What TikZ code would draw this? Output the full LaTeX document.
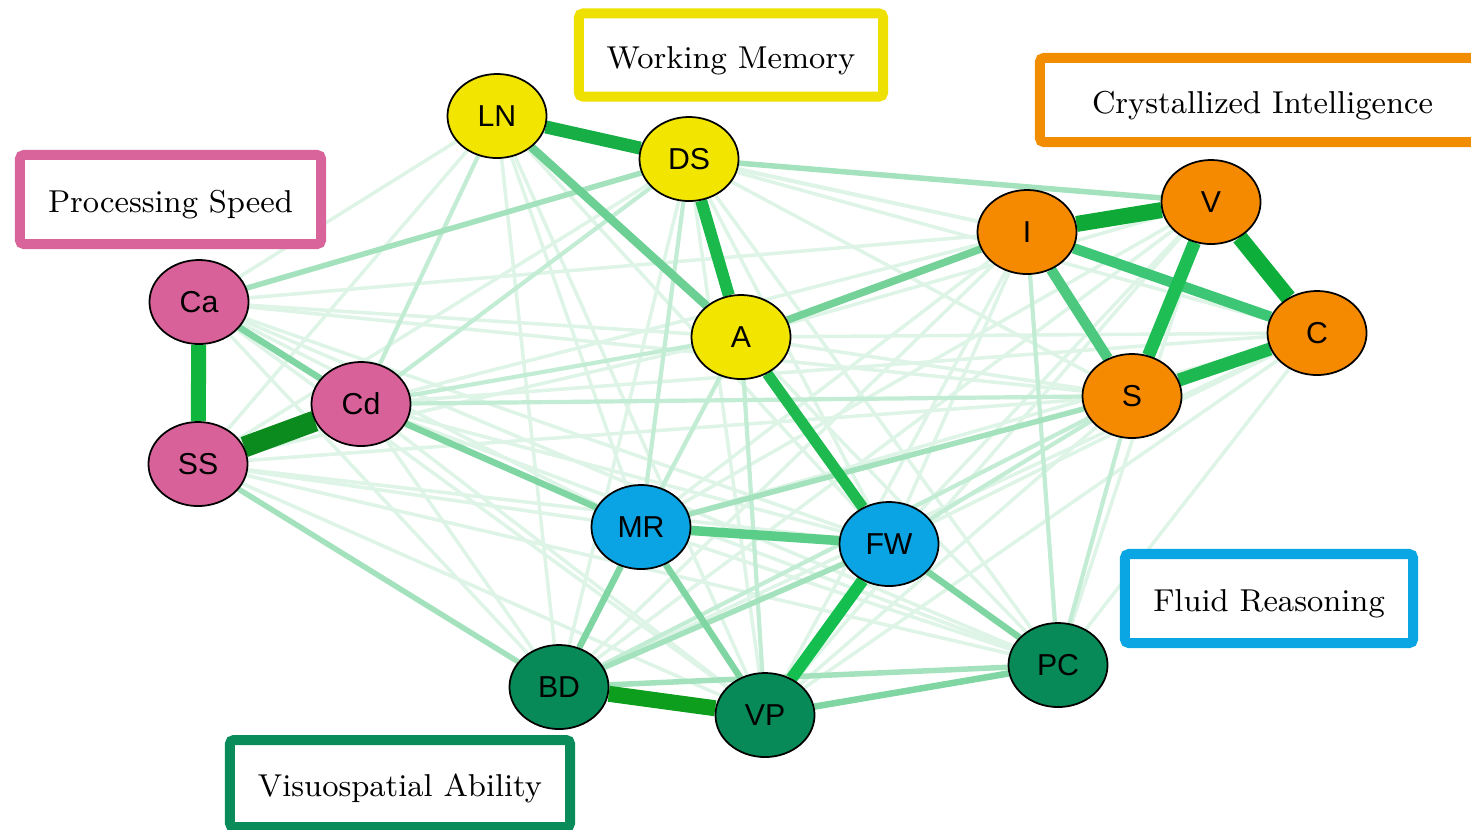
\documentclass[tikz,border=0pt]{standalone}
\usepackage{fontspec}
\newfontfamily\labfont{Liberation Sans}
\usetikzlibrary{shapes.geometric}
\pgfdeclarelayer{edgelayer}
\pgfsetlayers{edgelayer,main}
\definecolor{nyellow}{HTML}{F2E600}
\definecolor{npink}{HTML}{D9619A}
\definecolor{norange}{HTML}{F58A00}
\definecolor{nblue}{HTML}{0AA3E3}
\definecolor{ngreen}{HTML}{078A57}
\definecolor{byellow}{HTML}{EEE000}
\definecolor{bpink}{HTML}{D9649C}
\definecolor{borange}{HTML}{F28C00}
\definecolor{bblue}{HTML}{0AA5E3}
\definecolor{bgreen}{HTML}{0A8C5A}
\definecolor{evlight}{HTML}{DDF4E6}
\definecolor{elight}{HTML}{C2ECD3}
\definecolor{emlight}{HTML}{A3E2BC}
\definecolor{emed}{HTML}{80D6A2}
\newcommand\mkedges[3]{\foreach \a/\b in {#3} {\draw[line width=#2, draw=#1, line cap=butt] (\a) -- (\b);}}
\begin{document}
\begin{tikzpicture}[x=0.01cm,y=-0.01cm,
  vnode/.style={ellipse, draw=black, line width=0.5pt, minimum width=0.99cm, minimum height=0.84cm, inner sep=0pt, font=\labfont\fontsize{8.6}{9}\selectfont},
  ynode/.style={vnode, fill=nyellow},
  pnode/.style={vnode, fill=npink},
  onode/.style={vnode, fill=norange},
  bnode/.style={vnode, fill=nblue},
  gnode/.style={vnode, fill=ngreen},
  catbox/.style={draw, line width=0.1cm, rounded corners=0.04cm, fill=white, inner sep=0pt, text height=7.5pt, text depth=0pt, font=\fontsize{9}{11}\selectfont}]
\useasboundingbox (0,0) rectangle (1471,829);
\clip (0,0) rectangle (1471,829);
% nodes
\node[ynode] (LN) at (497,116) {LN};
\node[ynode] (DS) at (689,159) {DS};
\node[ynode] (A) at (741,337) {A};
\node[pnode] (Ca) at (199,302) {Ca};
\node[pnode] (Cd) at (361,404) {Cd};
\node[pnode] (SS) at (198,464) {SS};
\node[onode] (I) at (1027,232) {I};
\node[onode] (V) at (1211,202) {V};
\node[onode] (C) at (1317,333) {C};
\node[onode] (S) at (1132,396) {S};
\node[bnode] (MR) at (641,527) {MR};
\node[bnode] (FW) at (889,544) {FW};
\node[gnode] (BD) at (559,687) {BD};
\node[gnode] (VP) at (765,715) {VP};
\node[gnode] (PC) at (1058,665) {PC};
% category boxes
\node[catbox, draw=byellow, minimum width=3.04cm, minimum height=0.83cm] (wm) at (731,55) {Working Memory};
\node[catbox, draw=bpink, minimum width=3.01cm, minimum height=0.89cm] (ps) at (170.5,199.5) {Processing Speed};
\node[catbox, draw=borange, minimum width=4.45cm, minimum height=0.84cm] (ci) at (1262.5,100) {Crystallized Intelligence};
\node[catbox, draw=bblue, minimum width=2.88cm, minimum height=0.89cm] (fr) at (1269,598.5) {Fluid Reasoning};
\node[catbox, draw=bgreen, minimum width=3.40cm, minimum height=0.87cm] (va) at (400,783.5) {Visuospatial Ability};
\begin{pgfonlayer}{edgelayer}
\mkedges{evlight}{0.035cm}{Ca/A, Ca/I, Ca/S, Ca/MR, Ca/FW, Ca/BD, Ca/VP, Ca/PC, Ca/LN,
  SS/LN, SS/DS, SS/A, SS/MR, SS/FW, SS/VP, SS/PC, SS/S,
  Cd/I, Cd/FW, Cd/BD, Cd/VP, Cd/PC, Cd/C,
  LN/MR, LN/BD, LN/I, LN/FW, LN/VP,
  DS/I, DS/S, DS/C, DS/FW, DS/VP, DS/PC, DS/BD,
  A/S, A/C, A/V, A/BD, A/PC,
  I/MR, I/FW, I/BD, I/VP,
  V/MR, V/FW, V/BD, V/PC, V/VP,
  C/MR, C/FW, C/BD, C/VP, C/PC,
  S/VP, MR/PC}
\mkedges{elight}{0.042cm}{Cd/DS, Cd/A, Cd/S, DS/MR, A/MR, A/VP, S/FW, S/BD, I/PC, S/PC, LN/Cd}
\mkedges{emlight}{0.055cm}{Ca/DS, DS/V, SS/BD, S/MR, BD/PC, FW/BD}
\mkedges{emed}{0.065cm}{Ca/Cd, Cd/MR, MR/VP, FW/PC, VP/PC, MR/BD}
\draw[line width=0.075cm, draw={rgb,255:red,116;green,210;blue,152}] (A) -- (I);
\draw[line width=0.085cm, draw={rgb,255:red,108;green,207;blue,148}] (LN) -- (A);
\draw[line width=0.095cm, draw={rgb,255:red,90;green,205;blue,136}] (MR) -- (FW);
\draw[line width=0.105cm, draw={rgb,255:red,76;green,201;blue,126}] (I) -- (S);
\draw[line width=0.105cm, draw={rgb,255:red,61;green,198;blue,117}] (I) -- (C);
\draw[line width=0.11cm, draw={rgb,255:red,30;green,186;blue,80}] (A) -- (FW);
\draw[line width=0.12cm, draw={rgb,255:red,20;green,191;blue,80}] (FW) -- (VP);
\draw[line width=0.12cm, draw={rgb,255:red,27;green,184;blue,76}] (DS) -- (A);
\draw[line width=0.13cm, draw={rgb,255:red,30;green,190;blue,85}] (V) -- (S);
\draw[line width=0.13cm, draw={rgb,255:red,29;green,184;blue,80}] (S) -- (C);
\draw[line width=0.13cm, draw={rgb,255:red,22;green,174;blue,69}] (LN) -- (DS);
\draw[line width=0.15cm, draw={rgb,255:red,16;green,181;blue,62}] (Ca) -- (SS);
\draw[line width=0.16cm, draw={rgb,255:red,14;green,174;blue,58}] (V) -- (C);
\draw[line width=0.16cm, draw={rgb,255:red,14;green,169;blue,55}] (I) -- (V);
\draw[line width=0.16cm, draw={rgb,255:red,14;green,158;blue,30}] (BD) -- (VP);
\draw[line width=0.21cm, draw={rgb,255:red,11;green,138;blue,30}] (SS) -- (Cd);
\end{pgfonlayer}
\end{tikzpicture}
\end{document}
